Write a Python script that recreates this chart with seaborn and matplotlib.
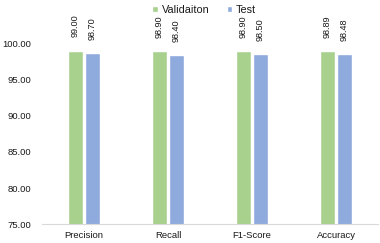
"""Validation vs test metrics bar chart."""

import matplotlib.pyplot as plt
import pandas as pd
import seaborn as sns

METRICS = ["Precision", "Recall", "F1-Score", "Accuracy"]
VALIDATION = [99.00, 98.90, 98.90, 98.89]
TEST = [98.70, 98.40, 98.50, 98.48]
SPLITS = ["Validaiton", "Test"]
Y_TICKS = [75, 80, 85, 90, 95, 100]

GREEN = "#A9D18E"
BLUE = "#8FAADC"
TEXT = "#1a1a1a"


def main() -> None:
    sns.set_theme(style="white")
    plt.rcParams["font.family"] = ["Liberation Sans", "DejaVu Sans"]

    df = pd.DataFrame(
        {
            "metric": METRICS * 2,
            "split": [SPLITS[0]] * len(METRICS) + [SPLITS[1]] * len(METRICS),
            "score": VALIDATION + TEST,
        }
    )

    fig = plt.figure(figsize=(3.8, 2.43), dpi=100)
    ax = fig.add_axes([42 / 380, 1 - 224.3 / 243, 336 / 380, (224.3 - 43.4) / 243])
    sns.barplot(
        data=df,
        x="metric",
        y="score",
        hue="split",
        hue_order=SPLITS,
        order=METRICS,
        palette=[GREEN, BLUE],
        saturation=1,
        width=0.4,
        gap=0.14,
        ax=ax,
        legend=True,
    )

    for container in ax.containers:
        ax.bar_label(
            container,
            fmt="%.2f",
            rotation=90,
            padding=9.5,
            fontsize=6.6,
            color=TEXT,
            clip_on=False,
        )

    ax.set_ylim(75, 100)
    ax.set_xlim(-0.5, 3.5)
    ax.set_yticks(Y_TICKS)
    ax.set_yticklabels([f"{v:.2f}" for v in Y_TICKS])
    ax.set_xlabel("")
    ax.set_ylabel("")
    ax.tick_params(axis="both", length=0, labelsize=6.8, labelcolor=TEXT)
    ax.tick_params(axis="y", pad=8)
    ax.tick_params(axis="x", pad=5)
    for side in ["top", "right", "left"]:
        ax.spines[side].set_visible(False)
    ax.spines["bottom"].set_color("#d9d9d9")
    ax.spines["bottom"].set_linewidth(0.8)

    handles, labels = ax.get_legend_handles_labels()
    ax.get_legend().remove()
    fig.legend(
        handles,
        labels,
        loc="upper center",
        bbox_to_anchor=(0.537, 1.02),
        ncol=2,
        frameon=False,
        fontsize=7.8,
        handlelength=0.55,
        handleheight=0.55,
        handletextpad=0.3,
        columnspacing=1.6,
        labelcolor=TEXT,
    )

    fig.savefig("out.png", dpi=100)
    plt.close(fig)


if __name__ == "__main__":
    main()
